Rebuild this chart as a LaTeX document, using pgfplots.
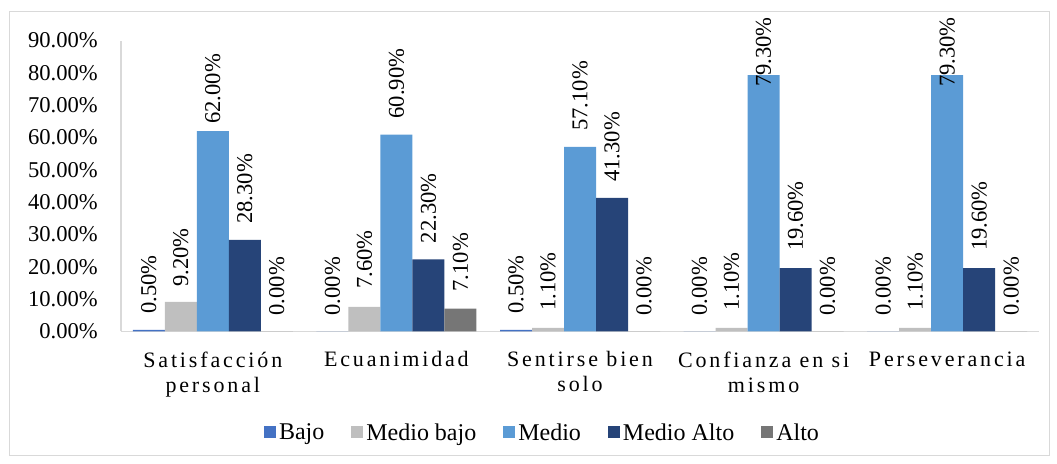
\documentclass[border=0pt]{standalone}
\usepackage{fontspec}
\setmainfont{Liberation Serif}
\newfontfamily\spaced[LetterSpace=13]{Liberation Serif}
\usepackage{pgfplots}
\usepackage{pgfplotstable}
\pgfplotsset{compat=1.18}
\definecolor{cBajo}{HTML}{4472C4}
\definecolor{cMB}{HTML}{BFBFBF}
\definecolor{cMedio}{HTML}{5B9BD5}
\definecolor{cMA}{HTML}{264478}
\definecolor{cAlto}{HTML}{767676}
\definecolor{frm}{HTML}{D9D9D9}
\pgfplotsset{/pgf/number format/assume math mode=true}
\pgfplotsset{sq/.style={fill=#1, draw=none, legend image code/.code={\fill[#1] (0pt,-6pt) rectangle (12pt,6pt);}}}
% x y g  (g = gap in px between bar top and its label)
\pgfplotstableread{
x y g
0 0.5 16
1 0.0 16
2 0.5 16
3 0.0 16
4 0.0 16
}\tBajo
\pgfplotstableread{
x y g
0 9.2 15
1 7.6 18
2 1.1 17
3 1.1 17
4 1.1 17
}\tMB
\pgfplotstableread{
x y g
0 62.0 7
1 60.9 16
2 57.1 16
3 79.3 -12
4 79.3 -12
}\tMedio
\pgfplotstableread{
x y g
0 28.3 16
1 22.3 16
2 41.3 16
3 19.6 17
4 19.6 17
}\tMA
\pgfplotstableread{
x y g
0 0.0 16
1 7.1 17
2 0.0 16
3 0.0 16
4 0.0 16
}\tAlto
\begin{document}
\begin{tikzpicture}
\useasboundingbox (0pt,0pt) rectangle (1057pt,463pt);
\draw[frm, line width=1pt] (9pt,8pt) rectangle (1049pt,451pt);
\begin{axis}[
  at={(121pt,131.5pt)}, anchor=south west,
  scale only axis, width=918pt, height=291pt,
  ymin=0, ymax=90, xmin=-0.5, xmax=4.5,
  ybar=0pt, bar width=32pt,
  xtick={0,1,2,3,4},
  xticklabels={Satisfacción\\personal, Ecuanimidad, Sentirse bien\\solo, Confianza en si\\mismo, Perseverancia},
  xticklabel style={align=center, anchor=north, inner sep=0pt, yshift=-20pt, font=\fontsize{22}{25}\selectfont\spaced},
  ytick={0,10,...,90},
  yticklabel={\pgfmathprintnumber[fixed,fixed zerofill,precision=2]{\tick}\%},
  yticklabel style={font=\fontsize{22.6}{26}\selectfont, anchor=east, inner sep=0pt, xshift=-23pt},
  axis x line*=bottom, axis y line*=left,
  axis line style={frm, line width=1.3pt},
  major tick length=0,
  visualization depends on={\thisrow{g} \as \gap},
  nodes near coords={\pgfmathprintnumber[fixed,fixed zerofill,precision=2]{\pgfplotspointmeta}\%},
  nodes near coords style={yshift=\gap pt, rotate=90, anchor=west, font=\fontsize{22.6}{26}\selectfont, inner sep=0pt, text=black},
  legend style={at={(0.4597,-0.347)}, anchor=center, draw=none, legend columns=5, font=\fontsize{24}{28}\selectfont,
    /tikz/every odd column/.append style={column sep=0pt},
    /tikz/every even column/.append style={column sep=24pt},
    nodes={inner xsep=3pt, inner ysep=0pt}},
]
\addplot[sq=cBajo] table[x=x,y=y] {\tBajo};
\addplot[sq=cMB] table[x=x,y=y] {\tMB};
\addplot[sq=cMedio] table[x=x,y=y] {\tMedio};
\addplot[sq=cMA] table[x=x,y=y] {\tMA};
\addplot[sq=cAlto] table[x=x,y=y] {\tAlto};
\legend{Bajo, Medio bajo, Medio, Medio Alto, Alto}
\end{axis}
\end{tikzpicture}
\end{document}
